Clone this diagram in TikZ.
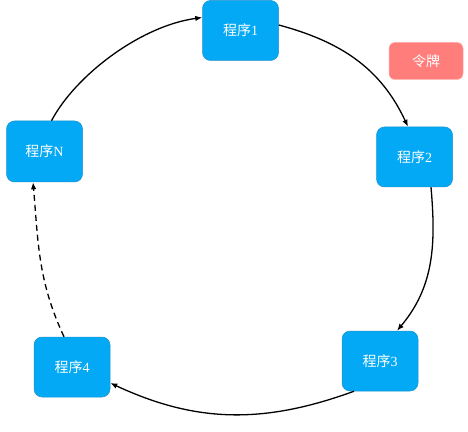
\documentclass[tikz,border=0pt]{standalone}
\usepackage{fontspec}
\setmainfont{Liberation Serif}
\newfontfamily\cjk{Noto Sans CJK SC}
\usetikzlibrary{arrows.meta}
\definecolor{progblue}{RGB}{3,169,244}
\definecolor{progedge}{RGB}{30,145,205}
\definecolor{tokred}{RGB}{255,126,124}
\definecolor{tokedge}{RGB}{255,170,168}
\begin{document}
\begin{tikzpicture}[x=1pt,y=1pt,
  prog/.style={draw=progedge,line width=0.5pt,fill=progblue,rounded corners=8pt,
    minimum width=76pt,minimum height=60pt,inner sep=0pt,text=white,
    font=\fontsize{14}{16}\selectfont},
  tok/.style={draw=tokedge,line width=0.5pt,fill=tokred,rounded corners=6pt,
    minimum width=74pt,minimum height=37pt,inner sep=0pt,text=white,
    font=\fontsize{14}{16}\selectfont},
  conn/.style={line width=1.3pt,-{Latex[length=7pt,width=5.5pt]}}]
\useasboundingbox (0,0) rectangle (468,431);
\node[prog] (p1) at (240.5,400.5) {{\cjk 程序}1};
\node[tok]  (tok) at (426,370) {\cjk 令牌};
\node[prog,minimum height=61pt] (pN) at (44.5,279.5) {{\cjk 程序}N};
\node[prog] (p2) at (414.5,274) {{\cjk 程序}2};
\node[prog] (p3) at (380,70) {{\cjk 程序}3};
\node[prog] (p4) at (72,64) {{\cjk 程序}4};
\draw[conn] ([xshift=7pt]pN.north) .. controls (75,355) and (140,405) .. ([yshift=13pt]p1.west);
\draw[conn] ([yshift=5.5pt]p1.east) to[out=-15,in=115] ([xshift=-6.5pt]p2.north);
\draw[conn] ([xshift=16.5pt]p2.south) to[out=-85,in=50] ([xshift=17pt]p3.north);
\draw[conn] ([xshift=-26pt]p3.south) to[out=200,in=-25] ([yshift=-16pt]p4.east);
\draw[conn,dashed,dash pattern=on 6pt off 4pt] ([xshift=-8pt]p4.north) to[out=115,in=-85] ([xshift=-11.5pt]pN.south);
\end{tikzpicture}
\end{document}
